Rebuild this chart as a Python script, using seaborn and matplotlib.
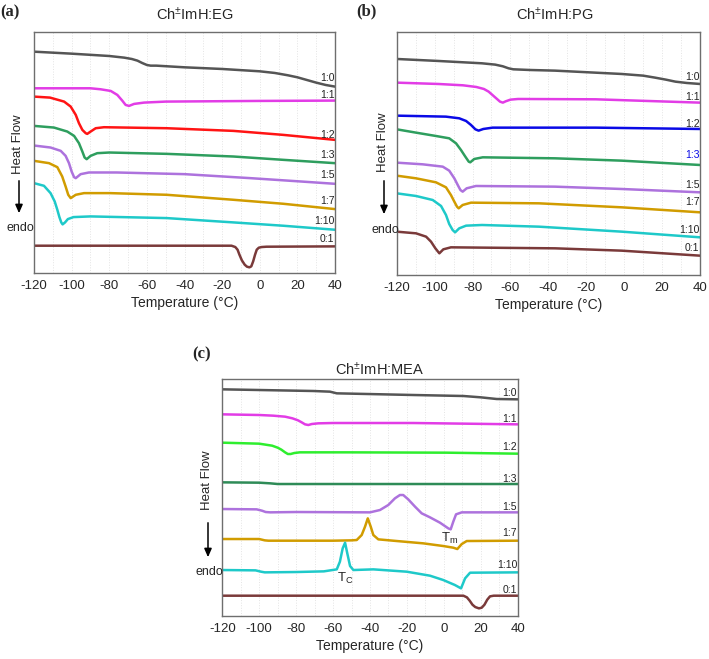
import matplotlib
matplotlib.use("Agg")
import matplotlib.pyplot as plt
from matplotlib.patches import FancyArrowPatch
import seaborn as sns
import pandas as pd

# ---------------- data (heat flow in arbitrary offset units) ----------------
RATIOS = ["1:0", "1:1", "1:2", "1:3", "1:5", "1:7", "1:10", "0:1"]
XTICKS = [-120, -100, -80, -60, -40, -20, 0, 20, 40]

# Panel (a) Ch±ImH:EG
EG_10_T = [-120, -100, -80, -72, -68, -65, -62.5, -60, -58, -55, -40, -20, 0, 8, 15, 20, 25, 30, 35, 40]
EG_10_H = [66.5, 65.9, 65.2, 64.7, 64.3, 63.8, 63.1, 62.5, 62.3, 62.3, 61.8, 61.3, 60.6, 60.1, 59.4,
           58.8, 58.0, 57.2, 56.5, 56.0]
EG_11_T = [-120, -90, -84.6, -79.2, -75.7, -73.1, -71.3, -69.5, -66.8, -61.5, -50, 0, 40]
EG_11_H = [55.5, 55.5, 55.2, 54.7, 53.5, 51.8, 50.5, 50.2, 50.8, 51.2, 51.5, 51.7, 51.8]
EG_12_T = [-120, -111.5, -104, -100.5, -97.8, -96.1, -94.3, -92.5, -91.7, -89.9, -87.2, -82.8,
           -49.5, -14, 12.5, 40]
EG_12_H = [53.0, 52.7, 51.5, 50.0, 47.5, 45.0, 43.0, 42.0, 41.8, 42.5, 43.5, 43.8, 43.5, 42.7, 41.5, 40.0]
EG_13_T = [-120, -109.4, -102.3, -98.7, -96.1, -94.3, -93.1, -92, -89.9, -86.4, -80, -49.5, -14, 12.5, 40]
EG_13_H = [44.2, 43.7, 42.5, 41.2, 39.0, 36.5, 34.7, 34.2, 35.2, 36.0, 36.2, 35.8, 35.0, 34.0, 33.0]
EG_15_T = [-120, -111.2, -105.8, -103.2, -101.4, -100, -98.7, -97.8, -95.2, -90.8, -76, -40, -5, 21.7, 40]
EG_15_H = [38.3, 37.7, 36.7, 35.2, 33.0, 30.5, 28.8, 28.5, 29.7, 30.2, 30.2, 29.7, 28.5, 27.5, 26.8]
EG_17_T = [-120, -112, -107.6, -105, -103.2, -101.8, -100.5, -97.8, -93.4, -79.6, -49.5, -14, 12.5, 40]
EG_17_H = [33.7, 33.0, 31.8, 29.0, 26.0, 23.5, 22.5, 23.5, 24.0, 24.0, 23.5, 22.0, 20.8, 19.2]
EG_110_T = [-120, -114.7, -111.2, -109, -107.6, -106.5, -105.5, -104.8, -103.5, -102, -99, -90,
            -49.5, -14, 12.5, 40]
EG_110_H = [27.0, 26.2, 24.0, 21.5, 19.0, 16.8, 15.2, 14.6, 15.2, 16.2, 16.8, 17.0, 16.5, 15.2, 14.2, 13.0]
EG_01_T = [-120, -15, -13, -11.8, -10.8, -9.5, -8, -6.8, -5.5, -4.5, -3.5, -2.5, -1.6, -0.5, 1.0, 3.6, 40]
EG_01_H = [8.2, 8.2, 7.8, 7.0, 5.5, 3.8, 2.5, 1.9, 1.7, 2.0, 3.5, 5.5, 7.0, 7.6, 7.8, 7.9, 8.0]

# Panel (b) Ch±ImH:PG
PG_10_T = [-120, -98, -75, -68, -64, -61, -58.5, -50, -36.5, -1.3, 10, 16.3, 22, 27, 33, 40]
PG_10_H = [64.8, 64.2, 63.5, 63.1, 62.6, 62.0, 61.7, 61.5, 61.3, 60.3, 59.8, 59.2, 58.6, 58.0, 57.6, 57.3]
PG_11_T = [-120, -98, -85, -78, -74, -71.5, -69.5, -67.5, -65.5, -64, -62.5, -60, -56, -15, 40]
PG_11_H = [57.7, 57.3, 56.9, 56.4, 55.8, 55.0, 54.0, 53.0, 52.0, 51.7, 52.1, 52.6, 52.8, 52.7, 51.7]
PG_12_T = [-120, -94, -87, -83.4, -80.8, -78.5, -76.8, -74.3, -69.4, -15, 40]
PG_12_H = [47.8, 47.5, 47.0, 46.2, 45.0, 43.7, 43.3, 43.8, 44.2, 44.2, 43.8]
PG_13_T = [-120, -109.8, -99.3, -92.3, -88.7, -86.1, -83.8, -82, -81.2, -79.1, -74.6, -36.5, -1.3, 40]
PG_13_H = [43.7, 42.7, 41.7, 41.0, 39.5, 37.5, 35.5, 34.0, 33.8, 34.8, 35.3, 35.0, 34.3, 33.0]
PG_15_T = [-120, -106.3, -95.7, -92.3, -89.6, -87.8, -86.4, -85.2, -83.1, -78.2, -36.5, -1.3, 40]
PG_15_H = [33.7, 33.2, 32.5, 31.3, 29.0, 27.0, 25.5, 25.0, 26.0, 26.7, 26.5, 25.8, 24.8]
PG_17_T = [-120, -109.8, -99.3, -94, -91.4, -89.6, -88.2, -87.3, -85.2, -80.8, -45, -1.3, 40]
PG_17_H = [29.8, 29.0, 27.8, 26.3, 24.0, 22.0, 20.5, 20.0, 21.0, 21.7, 21.5, 20.3, 18.8]
PG_110_T = [-120, -109.8, -101, -96.6, -94, -92.3, -90.5, -89.2, -87, -83.4, -75, -45, -1.3, 40]
PG_110_H = [24.5, 23.7, 22.5, 20.7, 18.0, 15.3, 13.5, 12.8, 14.0, 14.8, 15.0, 14.5, 13.0, 11.3]
PG_01_T = [-120, -109.8, -104.5, -101.9, -99.6, -97.5, -95.4, -91.4, -36.5, -1.3, 40]
PG_01_H = [13.0, 12.5, 11.5, 10.0, 8.0, 6.5, 7.7, 8.3, 8.0, 7.3, 5.8]

# Panel (c) Ch±ImH:MEA
MEA_10_T = [-120, -70.7, -61.7, -58, -16.5, 10.6, 20, 28.6, 40]
MEA_10_H = [67.9, 67.4, 67.2, 66.7, 66.2, 65.9, 65.5, 65.0, 64.9]
MEA_11_T = [-120, -100, -92.4, -86, -82, -79, -77, -75.2, -73.4, -71.5, -68, -60, -16.5, 40]
MEA_11_H = [60.4, 60.2, 60.0, 59.7, 59.2, 58.6, 58.0, 57.4, 57.2, 57.5, 57.7, 57.8, 57.8, 57.4]
MEA_12_T = [-120, -100, -93, -90, -88, -86, -84.5, -83, -81, -78, -52.6, 1.5, 40]
MEA_12_H = [51.9, 51.6, 51.0, 50.4, 49.8, 49.0, 48.5, 48.5, 48.8, 49.0, 49.0, 48.9, 48.6]
MEA_13_T = [-120, -100, -94, -90, 40]
MEA_13_H = [40.0, 39.9, 39.7, 39.5, 39.5]
MEA_15_T = [-120, -101.4, -98.5, -96.5, -94, -80, -40, -34.6, -30.1, -26.5, -23.8, -22, -19.3, -15.6,
            -12, -7.5, -2.1, 2.4, 3.7, 5.1, 6.6, 9.7, 40]
MEA_15_H = [32.0, 31.9, 31.5, 31.1, 31.0, 31.1, 31.0, 31.7, 33.2, 35.2, 36.2, 36.2, 34.9, 32.7,
            30.7, 29.5, 27.9, 26.2, 25.9, 28.2, 30.4, 31.0, 31.0]
MEA_17_T = [-120, -100, -97, -95, -60, -50, -47.2, -44.5, -42.7, -41.2, -39.6, -38.2, -35.5, -25.5,
            -11.1, -0.3, 5.1, 7.3, 9.7, 12.4, 40]
MEA_17_H = [23.0, 23.0, 22.6, 22.5, 22.5, 22.6, 22.7, 24.2, 26.7, 29.2, 26.7, 24.2, 22.9, 22.4,
            21.7, 20.9, 20.4, 20.0, 21.5, 22.4, 22.5]
MEA_110_T = [-120, -102, -99, -97, -80, -65, -58, -56.3, -54.8, -53.5, -52.3, -50.8, -49, -38.2,
             -20.1, -7.5, -0.3, 6.0, 9.3, 11.5, 14.2, 40]
MEA_110_H = [13.7, 13.6, 13.2, 13.0, 13.1, 13.3, 13.9, 16.2, 20.2, 21.9, 18.7, 14.9, 13.7, 13.9,
             13.2, 12.0, 10.7, 9.2, 8.2, 11.2, 12.9, 13.0]
MEA_01_T = [-120, 10.6, 12.5, 14, 15.5, 17, 19, 20.5, 22, 23.5, 25, 27, 40]
MEA_01_H = [6.0, 6.0, 5.5, 4.5, 3.3, 2.6, 2.2, 2.4, 3.3, 4.8, 5.8, 6.0, 6.0]

# Label heights (same units) for each curve
EG_LABEL_Y = [58.7, 53.5, 41.5, 35.5, 29.5, 21.5, 15.5, 10.2]
PG_LABEL_Y = [59.3, 53.3, 45.3, 36.0, 27.0, 22.0, 13.5, 8.0]
MEA_LABEL_Y = [66.7, 59.0, 50.7, 41.0, 32.7, 24.7, 15.2, 7.7]

# ---------------- style ----------------
sns.set_style("white")
plt.rcParams["font.family"] = ["Liberation Sans", "DejaVu Sans"]
plt.rcParams["axes.unicode_minus"] = False
plt.rcParams["mathtext.fontset"] = "custom"
plt.rcParams["mathtext.rm"] = "Liberation Sans"
plt.rcParams["mathtext.it"] = "Liberation Sans"

GRAY = "#555555"; MAG = "#e23ce6"; RED = "#ff1414"; GRN = "#2e9e5e"; PUR = "#ad72dd"
GOLD = "#d19c00"; CYAN = "#1ec9c9"; BRN = "#7a3a3a"; BLUE = "#0a0ae6"; LGRN = "#2eee2e"

panels = [
    dict(name="Ch$^{\u00b1}$ImH:EG", tag="(a)",
         T=[EG_10_T, EG_11_T, EG_12_T, EG_13_T, EG_15_T, EG_17_T, EG_110_T, EG_01_T],
         H=[EG_10_H, EG_11_H, EG_12_H, EG_13_H, EG_15_H, EG_17_H, EG_110_H, EG_01_H],
         colors=[GRAY, MAG, RED, GRN, PUR, GOLD, CYAN, BRN], label_y=EG_LABEL_Y,
         ylim=(0, 72.5), rect=(34, 31.7, 335, 273)),
    dict(name="Ch$^{\u00b1}$ImH:PG", tag="(b)",
         T=[PG_10_T, PG_11_T, PG_12_T, PG_13_T, PG_15_T, PG_17_T, PG_110_T, PG_01_T],
         H=[PG_10_H, PG_11_H, PG_12_H, PG_13_H, PG_15_H, PG_17_H, PG_110_H, PG_01_H],
         colors=[GRAY, MAG, BLUE, GRN, PUR, GOLD, CYAN, BRN], label_y=PG_LABEL_Y,
         ylim=(0, 72.8), rect=(396.7, 32.3, 700, 275)),
    dict(name="Ch$^{\u00b1}$ImH:MEA", tag="(c)",
         T=[MEA_10_T, MEA_11_T, MEA_12_T, MEA_13_T, MEA_15_T, MEA_17_T, MEA_110_T, MEA_01_T],
         H=[MEA_10_H, MEA_11_H, MEA_12_H, MEA_13_H, MEA_15_H, MEA_17_H, MEA_110_H, MEA_01_H],
         colors=[GRAY, MAG, LGRN, "#2e8b57", PUR, GOLD, CYAN, BRN], label_y=MEA_LABEL_Y,
         ylim=(0, 71.0), rect=(222.3, 379, 517.7, 615.7)),
]

W, Hpx = 709, 659
fig = plt.figure(figsize=(W / 100, Hpx / 100), dpi=100)

def fx(px):
    return px / W

def fy(py):
    return 1 - py / Hpx

for k, p in enumerate(panels):
    l, t, r, b = p["rect"]
    ax = fig.add_axes([fx(l), fy(b), fx(r) - fx(l), fy(t) - fy(b)])
    rows = []
    for lab, Ts, Hs in zip(RATIOS, p["T"], p["H"]):
        for tv, hv in zip(Ts, Hs):
            rows.append((lab, tv, hv))
    df = pd.DataFrame(rows, columns=["ratio", "T", "HF"])
    sns.lineplot(data=df, x="T", y="HF", hue="ratio", hue_order=RATIOS,
                 palette=dict(zip(RATIOS, p["colors"])), estimator=None, sort=False,
                 lw=1.8, legend=False, ax=ax)
    for line in ax.get_lines():
        line.set_solid_joinstyle("round")
        line.set_solid_capstyle("round")
    for lab, yv in zip(RATIOS, p["label_y"]):
        col = BLUE if (k == 1 and lab == "1:3") else "#222222"
        ax.text(39.7, yv, lab, ha="right", va="center", fontsize=7.5, color=col)
    ax.set_xlim(-120, 40)
    ax.set_ylim(*p["ylim"])
    ax.set_xticks(XTICKS)
    ax.set_xticks(range(-110, 40, 20), minor=True)
    ax.set_yticks([])
    ax.grid(True, which="both", axis="x", color="#e4e4e4", ls=":", lw=0.7)
    ax.tick_params(axis="x", which="major", direction="out", length=3, width=0.8,
                   color="#666666", labelsize=9.5, pad=2)
    ax.tick_params(axis="x", which="minor", length=0)
    for s in ax.spines.values():
        s.set_color("#6e6e6e")
        s.set_linewidth(1.0)
    ax.set_xlabel("Temperature (°C)", fontsize=10, labelpad=3)
    ax.set_ylabel("")
    if k == 2:
        ax.text(3.3, 23.3, r"T$_\mathrm{m}$", fontsize=9.5, ha="center", va="center")
        ax.text(-53.5, 11.2, r"T$_\mathrm{C}$", fontsize=9.5, ha="center", va="center")

# titles, panel tags, y-axis decorations (figure pixel positions)
titles = [(195, 15), (555, 15), (380, 370)]
tags = [(0, 4), (356, 3), (192, 346)]
hf = [(18, 144, 178, 216, 228), (383, 142, 178, 217, 230), (207, 480, 520, 560, 572)]
for p, (tx, ty), (gx, gy), (hx, hy, a0, a1, ey) in zip(panels, titles, tags, hf):
    fig.text(fx(tx), fy(ty), p["name"], ha="center", va="center", fontsize=10.5)
    fig.text(fx(gx), fy(gy), p["tag"], ha="left", va="top", fontsize=12,
             fontweight="bold", family="Liberation Serif")
    fig.text(fx(hx), fy(hy), "Heat Flow", rotation=90, ha="center", va="center", fontsize=9.5)
    fig.patches.append(FancyArrowPatch(
        (fx(hx + 1), fy(a0)), (fx(hx + 1), fy(a1)), transform=fig.transFigure,
        arrowstyle="-|>,head_length=5,head_width=2.2", color="black", lw=1.1))
    fig.text(fx(hx + 2), fy(ey), "endo", ha="center", va="center", fontsize=9)

fig.savefig("out.png", dpi=100)
